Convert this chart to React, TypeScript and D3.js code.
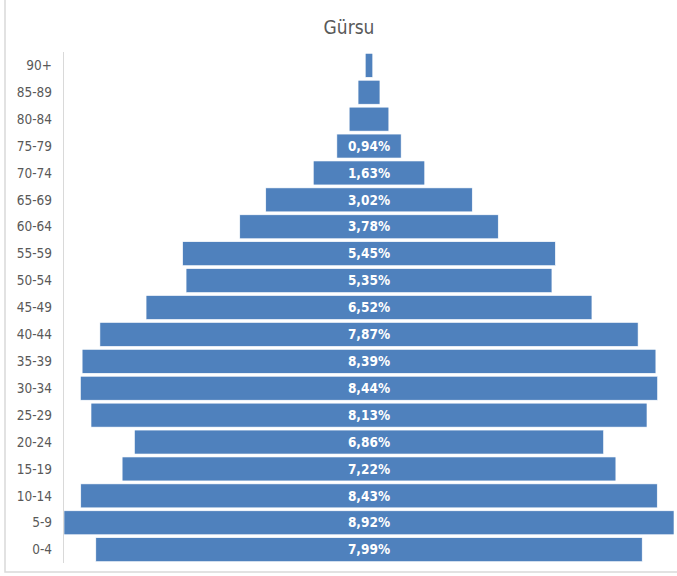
import React from "react";
import * as d3 from "d3";

const ageGroups = ["90+", "85-89", "80-84", "75-79", "70-74", "65-69", "60-64", "55-59", "50-54", "45-49", "40-44", "35-39", "30-34", "25-29", "20-24", "15-19", "10-14", "5-9", "0-4"];
const shares = [0.11, 0.32, 0.58, 0.94, 1.63, 3.02, 3.78, 5.45, 5.35, 6.52, 7.87, 8.39, 8.44, 8.13, 6.86, 7.22, 8.43, 8.92, 7.99];
const showLabel = [false, false, false, true, true, true, true, true, true, true, true, true, true, true, true, true, true, true, true];
const title = "Gürsu";

const W = 677;
const H = 576;
const FONT = "'Liberation Sans Narrow', 'DejaVu Sans Condensed', 'Open Sans', sans-serif";

export default function App() {
  const maxV = d3.max(shares) as number;
  const x = d3.scaleLinear().domain([-maxV / 2, maxV / 2]).range([64, 674]);
  const y = d3.scaleBand<string>().domain(ageGroups).range([52, 563]).paddingInner(0.11).paddingOuter(0.05);
  const fmt = (v: number) => v.toFixed(2).replace(".", ",") + "%";

  return (
    <svg width={W} height={H} style={{ position: "absolute", left: 0, top: 0, background: "#fff" }}>
      <rect x={5} y={-2} width={W + 4} height={H - 2} fill="none" stroke="#d9d9d9" strokeWidth={1.5} />
      <text x={349} y={34} textAnchor="middle" fontFamily={FONT} fontSize={19} fill="#595959">{title}</text>
      {ageGroups.map((g, i) => {
        const v = shares[i];
        const y0 = y(g) as number;
        const bw = y.bandwidth();
        return (
          <g key={g}>
            <rect x={x(-v / 2)} y={y0} width={x(v / 2) - x(-v / 2)} height={bw} fill="#4f81bd" stroke="#ffffff" strokeWidth={0.6} />
            <text x={52} y={y0 + bw / 2} dy="0.35em" textAnchor="end" fontFamily={FONT} fontSize={13.5} fill="#595959">{g}</text>
            {showLabel[i] && (
              <text x={x(0)} y={y0 + bw / 2} dy="0.35em" textAnchor="middle" fontFamily={FONT} fontSize={13.5} fontWeight="bold" fill="#ffffff">{fmt(v)}</text>
            )}
          </g>
        );
      })}
      <line x1={63.5} x2={63.5} y1={52} y2={563} stroke="#d9d9d9" strokeWidth={1} />
    </svg>
  );
}
